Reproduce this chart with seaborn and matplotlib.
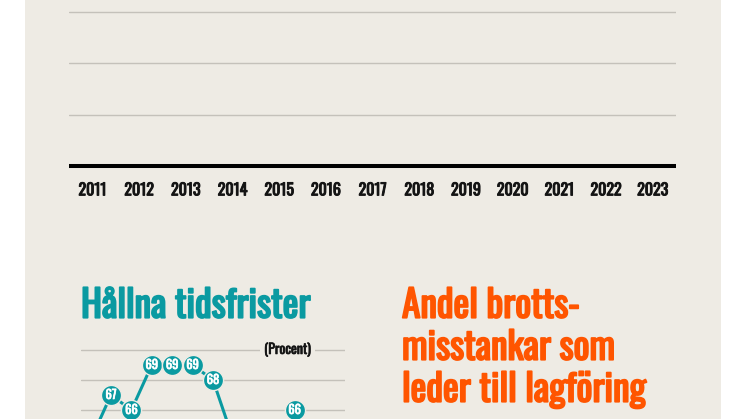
import matplotlib
matplotlib.use('Agg')
import matplotlib.pyplot as plt
import matplotlib.patheffects as pe
from matplotlib.patches import Rectangle
import seaborn as sns

BEIGE = '#EEEBE4'
GRID = '#C4C1BA'
TEAL = '#0A9AA1'
ORANGE = '#FF5500'
INK = '#141414'

# data
years = [2011, 2012, 2013, 2014, 2015, 2016, 2017, 2018, 2019, 2020, 2021, 2022, 2023]
hallna_tidsfrister = [64, 67, 66, 69, 69, 69, 68, 64, 63, 63, 66, 63, 64]
title_left = 'Hållna tidsfrister'
title_right = ['Andel brotts-', 'misstankar som', 'leder till lagföring']

sns.set_theme(style='white', rc={'axes.facecolor': 'none', 'figure.facecolor': 'white'})
plt.rcParams['font.family'] = ['Oswald', 'DejaVu Sans']

W, H = 746, 419
fig = plt.figure(figsize=(W / 100, H / 100), dpi=100)
fig.patches.append(Rectangle((25 / W, 0), (721 - 25) / W, 1, transform=fig.transFigure,
                             facecolor=BEIGE, edgecolor='none', zorder=-5))

def bold(color, w=1.0):
    return [pe.withStroke(linewidth=w, foreground=color)]

# top chart (only the axis part is visible)
ax_top = fig.add_axes([69 / W, (H - 166) / H, (676 - 69) / W, 166 / H])
ax_top.set_xlim(-0.5, len(years) - 0.5)
ax_top.set_ylim(0, 166 / 51.3)
ax_top.set_yticks([1, 2, 3])
ax_top.yaxis.grid(True, color=GRID, linewidth=1.0)
ax_top.set_yticklabels([])
ax_top.set_xticks(range(len(years)))
ax_top.set_xticklabels([str(y) for y in years], fontsize=11.5, color=INK, path_effects=bold(INK, 0.7))
ax_top.tick_params(axis='x', length=0, pad=12.5)
ax_top.tick_params(axis='y', length=0)
ax_top.axhline(0, color='black', linewidth=2.9, clip_on=False, solid_capstyle='butt')
sns.despine(ax=ax_top, left=True, bottom=True)

# bottom left: Hållna tidsfrister
fig.text(81 / W, (H - 317.7) / H, title_left, color=TEAL, fontsize=27, va='baseline',
         path_effects=bold(TEAL, 1.3))

ax = fig.add_axes([81 / W, 0, (345 - 81) / W, 84 / H])
ax.set_xlim(2011 - 9.6 / 20.4, 2023 + 9.6 / 20.4)
ax.set_ylim(65.4, 71)
ax.set_yticks([66, 68, 70])
ax.yaxis.grid(True, color=GRID, linewidth=1.0)
ax.set_axisbelow(True)
ax.set_xticks([])
ax.set_yticklabels([])
ax.tick_params(length=0)
sns.despine(ax=ax, left=True, bottom=True)
sns.lineplot(x=years, y=hallna_tidsfrister, ax=ax, color=TEAL, linewidth=2.2, marker='o',
             markersize=14.5, markeredgecolor=BEIGE, markeredgewidth=1.0)
for x, v in zip(years, hallna_tidsfrister):
    if v < ax.get_ylim()[0]:
        continue  # below the visible part
    ax.text(x, v, str(v), ha='center', va='center', color='white', fontsize=9,
            path_effects=bold('white', 0.5))
ax.text(2011 + (287.5 - 90.6) / 20.4, 70, '(Procent)', ha='center', va='center', color=INK,
        fontsize=10, path_effects=bold(INK, 0.5),
        bbox=dict(boxstyle='square,pad=0.3', facecolor=BEIGE, edgecolor='none'))

# bottom right: title only
for i, line in enumerate(title_right):
    fig.text(402 / W, (H - 317.7 - 42 * i) / H, line, color=ORANGE, fontsize=27,
             va='baseline', path_effects=bold(ORANGE, 1.3))

fig.savefig('out.png', dpi=100)
